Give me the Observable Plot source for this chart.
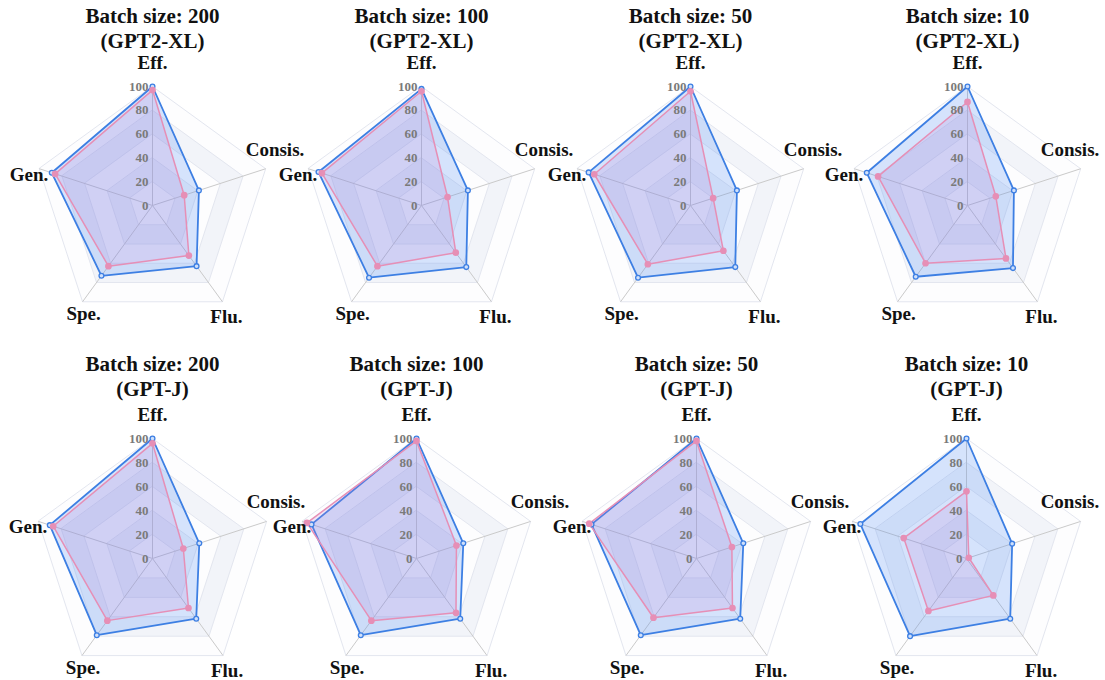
<!DOCTYPE html>
<html>
<head>
<meta charset="utf-8">
<script src="https://cdn.jsdelivr.net/npm/d3@7"></script>
<script src="https://cdn.jsdelivr.net/npm/@observablehq/plot@0.6"></script>
<style>
  body { margin: 0; background: #fff; }
  #wrap { position: relative; width: 1105px; height: 680px; overflow: hidden; background: #fff; }
  .panel { position: absolute; }
  .panel svg { overflow: visible; }
</style>
</head>
<body>
<div id="wrap"></div>
<script>
// ---- data ----
const axes = ["Eff.", "Consis.", "Flu.", "Spe.", "Gen."];
const batchSizes = [200, 100, 50, 10];
const models = ["GPT2-XL", "GPT-J"];
const ticks = [0, 20, 40, 60, 80, 100];
const rings = [100, 80, 60, 40, 20];

// values per panel in axis order: Eff., Consis., Flu., Spe., Gen.
const blueGPT2XL = [
  [100, 41, 63, 73, 89],
  [98, 41, 64, 75, 91],
  [100, 41, 64, 75, 90],
  [100, 41, 65, 74, 89]
];
const pinkGPT2XL = [
  [97, 28, 52, 63, 86],
  [96, 23, 49, 63, 88],
  [96, 20, 47, 61, 85],
  [87, 25, 55, 60, 79]
];
const blueGPTJ = [
  [100, 41, 62, 79, 90],
  [100, 41, 62, 79, 92],
  [100, 41, 62, 79, 92],
  [100, 40, 62, 80, 93]
];
const pinkGPTJ = [
  [96, 27, 51, 64, 87],
  [98, 35, 56, 64, 96],
  [98, 31, 51, 61, 94],
  [56, 2, 38, 54, 55]
];

// ---- layout / style ----
const FONT = "Liberation Serif";
const W = 276, H = 360, CX = 138, CY = 205;
const colCenters = [[152, 421, 690, 967], [152, 416, 696, 966]];
const rowCenters = [205, 558];
const scalePx = [1.19, 1.2];
const titleBaseline = [47, 395];
const BLUE = "#3d7fe3", BLUE_FILL = "rgba(66,133,244,0.21)";
const PINK = "#e68fb6", PINK_FILL = "rgba(184,130,214,0.19)";
const BAND_DARK = "#f2f4f9", BAND_LIGHT = "#fdfdfe";

const angle = i => i * 2 * Math.PI / axes.length;
const toPts = vals => vals.map((v, i) => ({axis: axes[i], v, x: v * Math.sin(angle(i)), y: v * Math.cos(angle(i))}));

function labelOpts(i, col) {
  switch (i) {
    case 0: return {dx: 0, dy: -18, textAnchor: "middle"};
    case 1: return {dx: col === 3 ? -40 : -20, dy: -13, textAnchor: "start"};
    case 2: return {dx: 4, dy: 21, textAnchor: "middle"};
    case 3: return {dx: 1, dy: 18, textAnchor: "middle"};
    default: return {dx: 9, dy: 12, textAnchor: "end"};
  }
}

const wrap = document.getElementById("wrap");

models.forEach((model, row) => {
  batchSizes.forEach((bs, col) => {
    const k = scalePx[row];
    const blue = toPts(row === 0 ? blueGPT2XL[col] : blueGPTJ[col]);
    const pink = toPts(row === 0 ? pinkGPT2XL[col] : pinkGPTJ[col]);
    const outer = toPts(axes.map(() => 100));
    const top = rowCenters[row] - CY;
    const left = colCenters[row][col] - CX;

    const marks = [];
    rings.forEach((r, j) => {
      marks.push(Plot.line(toPts(axes.map(() => r)), {
        x: "x", y: "y", curve: "linear-closed",
        fill: j % 2 === 0 ? BAND_LIGHT : BAND_DARK, stroke: "#e3e6ef", strokeWidth: 1
      }));
    });
    marks.push(Plot.link(outer, {x1: 0, y1: 0, x2: "x", y2: "y", stroke: "#cacaca", strokeWidth: 1}));
    marks.push(Plot.line(blue, {x: "x", y: "y", curve: "linear-closed", fill: BLUE_FILL, stroke: BLUE, strokeWidth: 1.8}));
    marks.push(Plot.line(pink, {x: "x", y: "y", curve: "linear-closed", fill: PINK_FILL, stroke: PINK, strokeWidth: 1.5}));
    marks.push(Plot.dot(blue, {x: "x", y: "y", r: 2.4, fill: "#cfe0fb", stroke: BLUE, strokeWidth: 1.3}));
    marks.push(Plot.dot(pink, {x: "x", y: "y", r: 2.6, fill: PINK, stroke: PINK}));
    marks.push(Plot.text(ticks, {
      x: 0, y: d => d, text: d => String(d), textAnchor: "end", lineAnchor: "middle", dx: -4,
      fontSize: 13, fontWeight: "bold", fill: "#7a7a7a", fontFamily: FONT
    }));
    axes.forEach((a, i) => {
      marks.push(Plot.text([outer[i]], {
        x: "x", y: "y", text: d => d.axis, lineAnchor: "bottom",
        fontSize: 19, fontWeight: "bold", fill: "#111", fontFamily: FONT,
        ...labelOpts(i, col)
      }));
    });
    marks.push(Plot.text([`Batch size: ${bs}\n(${model})`], {
      frameAnchor: "top", text: d => d, lineAnchor: "bottom", lineHeight: 1.15,
      dy: titleBaseline[row] - top, fontSize: 21, fontWeight: "bold", fill: "#111", fontFamily: FONT
    }));

    const chart = Plot.plot({
      width: W, height: H, margin: 0,
      x: {domain: [-CX / k, (W - CX) / k], axis: null},
      y: {domain: [-(H - CY) / k, CY / k], axis: null},
      style: {overflow: "visible", background: "transparent", fontFamily: FONT},
      marks
    });
    const div = document.createElement("div");
    div.className = "panel";
    div.style.left = left + "px";
    div.style.top = top + "px";
    div.appendChild(chart);
    wrap.appendChild(div);
  });
});
</script>
</body>
</html>
